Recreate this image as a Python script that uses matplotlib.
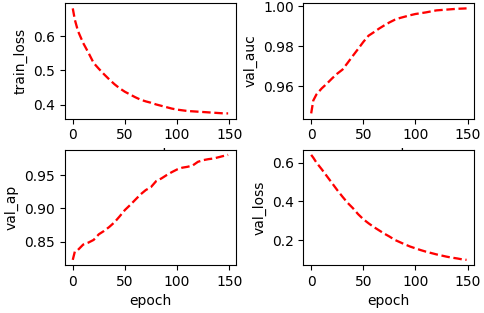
import matplotlib
matplotlib.use('Agg')
import matplotlib.pyplot as plt

epochs = [0, 2, 5, 10, 15, 20, 25, 30, 35, 40, 45, 50, 55, 60, 65, 70, 75,
          80, 85, 90, 95, 100, 105, 110, 115, 120, 125, 130, 135, 140, 145, 149]

train_loss = [0.681, 0.648, 0.615, 0.580, 0.552, 0.522, 0.505, 0.489, 0.474, 0.460,
              0.448, 0.438, 0.430, 0.422, 0.415, 0.410, 0.406, 0.401, 0.397, 0.393,
              0.389, 0.386, 0.384, 0.382, 0.381, 0.380, 0.379, 0.378, 0.377, 0.376,
              0.375, 0.375]

val_auc = [0.9466, 0.9530, 0.9560, 0.9590, 0.9614, 0.9640, 0.9664, 0.9684, 0.9718,
           0.9753, 0.9787, 0.9822, 0.9853, 0.9870, 0.9888, 0.9904, 0.9919, 0.9932,
           0.9941, 0.9948, 0.9955, 0.9961, 0.9965, 0.9969, 0.9974, 0.9979, 0.9981,
           0.9983, 0.9985, 0.9987, 0.9988, 0.9989]

val_ap = [0.8225, 0.835, 0.8375, 0.8455, 0.8485, 0.8525, 0.861, 0.866, 0.872, 0.879,
          0.888, 0.8975, 0.905, 0.913, 0.921, 0.9275, 0.932, 0.941, 0.945, 0.950,
          0.9545, 0.9585, 0.9612, 0.9625, 0.9645, 0.970, 0.9725, 0.974, 0.975, 0.977,
          0.979, 0.9805]

val_loss = [0.6395, 0.625, 0.600, 0.566, 0.530, 0.494, 0.458, 0.424, 0.392, 0.365,
            0.334, 0.308, 0.287, 0.268, 0.251, 0.234, 0.219, 0.202, 0.190, 0.178,
            0.167, 0.158, 0.149, 0.141, 0.134, 0.127, 0.121, 0.115, 0.110, 0.106,
            0.101, 0.0987]

series = [('train_loss', train_loss), ('val_auc', val_auc),
          ('val_ap', val_ap), ('val_loss', val_loss)]

fig, axs = plt.subplots(2, 2, figsize=(4.85, 3.13), dpi=100)
fig.subplots_adjust(left=0.134, right=0.978, top=0.990, bottom=0.153,
                    wspace=0.395, hspace=0.268)

for ax, (name, values) in zip(axs.flat, series):
    ax.plot(epochs, values, 'r--', linewidth=1.65)
    ax.set_ylabel(name)
    # top row labels end up behind the lower axes, same as the original
    ax.set_xlabel('epoch')

fig.savefig('out.png')
